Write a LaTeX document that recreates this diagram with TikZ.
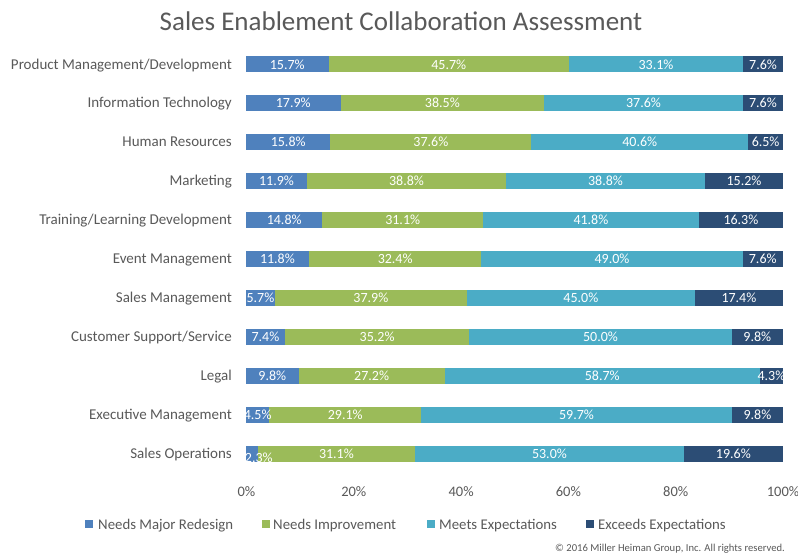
\documentclass[tikz,border=0pt]{standalone}
\usepackage{fontspec}
\setmainfont{Carlito}
\definecolor{cA}{HTML}{4F81BD}
\definecolor{cB}{HTML}{9BBB59}
\definecolor{cC}{HTML}{4BACC6}
\definecolor{cD}{HTML}{2C4D75}
\definecolor{txt}{HTML}{595959}
\begin{document}
\begin{tikzpicture}[x=1pt,y=-1pt,
  titlestyle/.style={anchor=base,text=txt,font=\fontsize{27}{30}\selectfont,inner sep=0pt},
  cat/.style={anchor=base east,text=txt,font=\fontsize{15}{17}\selectfont,inner sep=0pt},
  val/.style={anchor=base,text=white,font=\fontsize{14}{16}\selectfont,inner sep=0pt},
  axl/.style={anchor=base,text=txt,font=\fontsize{14.5}{16}\selectfont,inner sep=0pt},
  sq/.style={minimum size=8pt,inner sep=0pt},
  lgt/.style={anchor=base west,text=txt,font=\fontsize{14.8}{16}\selectfont,inner sep=0pt},
  copy/.style={anchor=base east,text=txt,font=\fontsize{10.6}{12}\selectfont,inner sep=0pt}]
\useasboundingbox (0,0) rectangle (798,554);
\fill[white] (0,0) rectangle (798,554);
\node[titlestyle] (title) at (401,30) {Sales Enablement Collaboration Assessment};
\foreach \nm/\a/\b/\c/\d [count=\i] in {
  {Product Management/Development}/15.7/45.7/33.1/7.6,
  {Information Technology}/17.9/38.5/37.6/7.6,
  {Human Resources}/15.8/37.6/40.6/6.5,
  {Marketing}/11.9/38.8/38.8/15.2,
  {Training/Learning Development}/14.8/31.1/41.8/16.3,
  {Event Management}/11.8/32.4/49.0/7.6,
  {Sales Management}/5.7/37.9/45.0/17.4,
  {Customer Support/Service}/7.4/35.2/50.0/9.8,
  {Legal}/9.8/27.2/58.7/4.3,
  {Executive Management}/4.5/29.1/59.7/9.8,
  {Sales Operations}/2.3/31.1/53.0/19.6}{
  \pgfmathsetmacro\yy{64+38.97*(\i-1)}
  \pgfmathsetmacro\tot{\a+\b+\c+\d}
  \pgfmathsetmacro\xa{246+537*(\a/\tot)}
  \pgfmathsetmacro\xb{246+537*((\a+\b)/\tot)}
  \pgfmathsetmacro\xc{246+537*((\a+\b+\c)/\tot)}
  \pgfmathsetmacro\oa{\i==11 ? 4 : 0}
  \pgfmathsetmacro\ox{\i==11 ? 7 : 0}
  \node[cat] (cat\i) at (232,\yy+5) {\nm};
  \fill[cA] (246,\yy-8) rectangle (\xa,\yy+8);
  \fill[cB] (\xa,\yy-8) rectangle (\xb,\yy+8);
  \fill[cC] (\xb,\yy-8) rectangle (\xc,\yy+8);
  \fill[cD] (\xc,\yy-8) rectangle (783,\yy+8);
  \begin{scope}
    \clip (246,\yy-12) rectangle (785,\yy+14);
    \node[val] (va\i) at ({(246+\xa)/2+\ox},\yy+5+\oa) {\a\%};
    \node[val] (vb\i) at ({(\xa+\xb)/2},\yy+5) {\b\%};
    \node[val] (vc\i) at ({(\xb+\xc)/2},\yy+5) {\c\%};
    \node[val] (vd\i) at ({(\xc+783)/2},\yy+5) {\d\%};
  \end{scope}
}
\foreach \p [count=\k] in {0,20,40,60,80,100}{
  \node[axl] (ax\k) at ({246.5+5.365*\p},496) {\p\%};
}
\node[sq,fill=cA] (lg1) at (89,524) {};
\node[lgt] (lt1) at (98,529) {Needs Major Redesign};
\node[sq,fill=cB] (lg2) at (266,524) {};
\node[lgt] (lt2) at (273,529) {Needs Improvement};
\node[sq,fill=cC] (lg3) at (431,524) {};
\node[lgt] (lt3) at (439,529) {Meets Expectations};
\node[sq,fill=cD] (lg4) at (590,524) {};
\node[lgt] (lt4) at (598,529) {Exceeds Expectations};
\node[copy] (copyr) at (785,551) {© 2016 Miller Heiman Group, Inc. All rights reserved.};
\end{tikzpicture}
\end{document}
